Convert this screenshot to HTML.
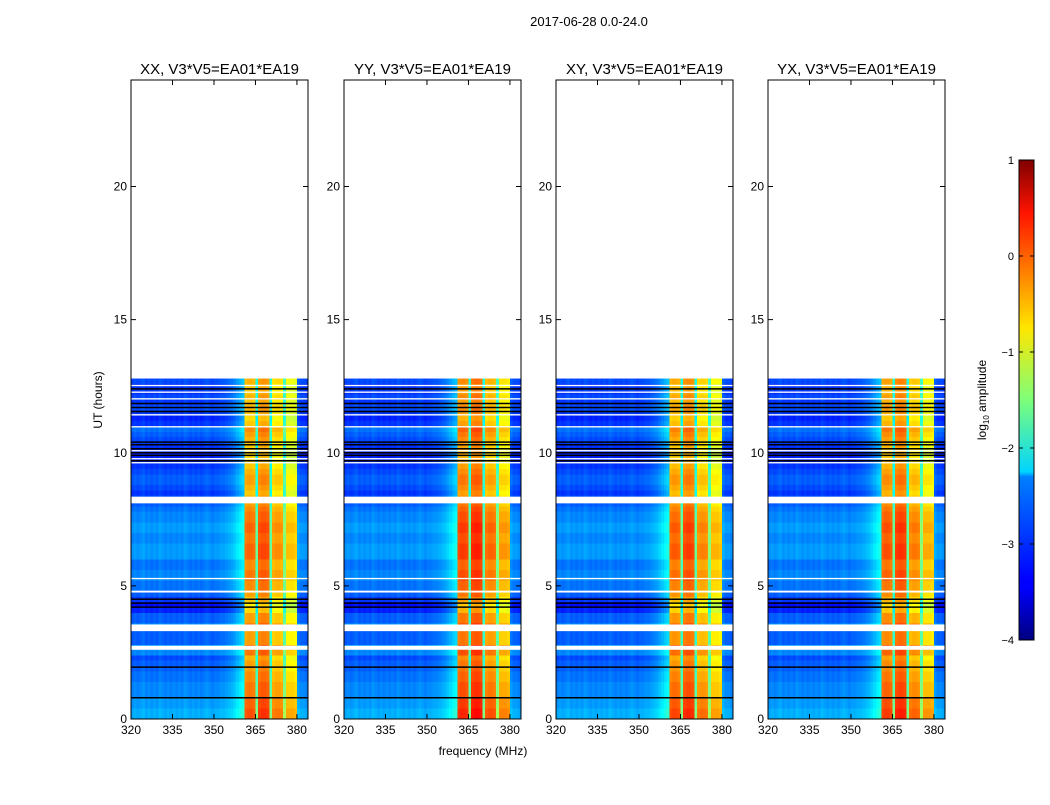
<!DOCTYPE html>
<html><head><meta charset="utf-8">
<style>
body{margin:0;background:#fff;font-family:"Liberation Sans",sans-serif;}
svg text{font-family:"Liberation Sans",sans-serif;}
</style></head>
<body>
<svg id="fig" width="1050" height="800" xmlns="http://www.w3.org/2000/svg">
<defs>
<linearGradient id="jet" x1="0" y1="1" x2="0" y2="0">
<stop offset="0" stop-color="#00007f"/><stop offset="0.11" stop-color="#0000ff"/>
<stop offset="0.125" stop-color="#0000ff"/><stop offset="0.34" stop-color="#0080ff"/>
<stop offset="0.35" stop-color="#00d4ff"/><stop offset="0.5" stop-color="#7dff7a"/>
<stop offset="0.65" stop-color="#ffe600"/><stop offset="0.89" stop-color="#ff1300"/>
<stop offset="1" stop-color="#7f0000"/>
</linearGradient>
</defs>
<text x="589" y="26" font-size="13" text-anchor="middle">2017-06-28 0.0-24.0</text>
<g id="panels"></g>
<text x="483" y="755" font-size="12" text-anchor="middle">frequency (MHz)</text>
<text transform="translate(102,400) rotate(-90)" font-size="12" text-anchor="middle">UT (hours)</text>
<g>
<rect x="1019" y="160" width="15" height="480" fill="url(#jet)" stroke="#000" stroke-width="1"/>
<g id="cbticks"></g>
<text transform="translate(986,400) rotate(-90)" font-size="12" text-anchor="middle">log<tspan font-size="8" dy="3">10</tspan><tspan dy="-3"> amplitude</tspan></text>
</g>
</svg>
<script>
const panelTitles=["XX, V3*V5=EA01*EA19","YY, V3*V5=EA01*EA19","XY, V3*V5=EA01*EA19","YX, V3*V5=EA01*EA19"];
const xTicks=[320,335,350,365,380];
const yTicks=[0,5,10,15,20];
const cbTicks=[1,0,-1,-2,-3,-4];
// frequency channels 320..383 MHz (1 MHz each), baseline log10 amplitude
const freqProfile=[-2.95,-2.9,-2.95,-2.9,-2.85,-2.95,-2.9,-2.95,-2.9,-2.95,-2.85,-2.9,-2.95,-2.9,-2.95,-2.9,
-2.95,-2.9,-2.95,-2.85,-2.9,-2.95,-2.9,-2.95,-2.9,-2.95,-2.9,-2.85,-2.9,-2.95,-2.9,-2.9,
-2.85,-2.85,-2.8,-2.75,-2.7,-2.6,-2.5,-2.4,-2.3,-0.45,-0.4,-0.4,-0.45,-1.9,-0.3,-0.25,
-0.25,-0.3,-1.9,-0.65,-0.6,-0.6,-0.65,-1.7,-0.85,-0.85,-0.85,-0.9,-2.8,-2.9,-2.9,-2.95];
// per-panel boost applied to RFI band (360-380 MHz)
const bandBoost=[0,0.2,0.05,0.1];
// time rows 0..12.8 h, 0.2 h each: offset in log10 amplitude
const timeOffset=[0.4,0.4,0.3,0.3,0.2, 0.2,0.2,0.1,0.1,0.0, 0.0,-0.1,0.2,0.3,0.0, 0.0,0.0,0.3,0.0,0.0,
-0.3,-0.4,-0.2,0.0,0.1, 0.1,0.2,0.2,0.1,0.1, 0.3,0.3,0.3,0.2,0.2, 0.3,0.3,0.2,0.2,0.1,
0.0,-0.1,-0.2,-0.1,0.0, 0.0,-0.1,-0.2,-0.3,-0.3, -0.3,-0.2,-0.1,0.0,0.1, -0.2,-0.3,-0.2,-0.1,-0.2,
-0.1,-0.2,-0.2,-0.1];
// flagged (white) time ranges, hours
const whiteGaps=[[2.6,2.75],[3.3,3.55],[4.75,4.82],[5.25,5.3],[8.1,8.35],[9.6,9.65],[9.75,9.8],[10.05,10.1],[10.95,11.0],[11.4,11.45],[12.0,12.05],[12.25,12.3],[12.5,12.55],[12.78,12.8]];
// black lines, hours
const blackLines=[0.8,1.95,4.2,4.35,4.5,9.7,9.9,10.0,10.15,10.3,10.4,11.55,11.7,11.85,12.4];

const L=[131,344,556,768],W=177,T=80,B=719;
const NS="http://www.w3.org/2000/svg";
function xs(p,f){return L[p]+(f-320)/64*W;}
function ys(h){return B-h/24*(B-T);}
function jet(v){let t=(v+4)/5;t=Math.max(0,Math.min(1,t));
 const c=x=>Math.round(255*Math.max(0,Math.min(1,1.5-Math.abs(4*t-x))));
 return `rgb(${c(3)},${c(2)},${c(1)})`;}
function mk(tag,attrs,parent){const e=document.createElementNS(NS,tag);for(const k in attrs)e.setAttribute(k,attrs[k]);parent.appendChild(e);return e;}
const root=document.getElementById('panels');
for(let p=0;p<4;p++){
 const g=mk('g',{},root);
 
 
 const cells=mk('g',{'shape-rendering':'crispEdges'},g);
 
 
 for(let j=0;j<timeOffset.length;j++){
  const y0=ys((j+1)*0.2),y1=ys(j*0.2);
  for(let i=0;i<freqProfile.length;i++){
   const f=320+i;
   let v=freqProfile[i]+timeOffset[j];
   if(f>=360&&f<380&&freqProfile[i]>-1.5)v+=bandBoost[p];
   const r=mk('rect',{x:xs(p,f),y:y0,width:W/64+0.3,height:y1-y0+0.3,fill:jet(v)},cells);
   
   
  }
 }
 for(const [a,b] of whiteGaps){
  const r=mk('rect',{x:L[p],y:ys(b),width:W,height:ys(a)-ys(b),fill:'#fff'},g);
  
  
 }
 for(const h of blackLines){
  const l=mk('line',{x1:L[p],x2:L[p]+W,y1:ys(h),y2:ys(h),stroke:'#000','stroke-width':1.5},g);
  
  
 }
 const fr=mk('rect',{x:L[p],y:T,width:W,height:B-T,fill:'none',stroke:'#000','stroke-width':1},g);
 
 
 const tt=mk('text',{x:L[p]+W/2,y:74,'font-size':15,'text-anchor':'middle'},g);
 tt.textContent=panelTitles[p];
 
 
 for(const f of xTicks){const x=xs(p,f);
  mk('line',{x1:x,x2:x,y1:B,y2:B-5,stroke:'#000'},g);mk('line',{x1:x,x2:x,y1:T,y2:T+5,stroke:'#000'},g);
  const t=mk('text',{x:x,y:B+15,'font-size':12,'text-anchor':'middle'},g);t.textContent=f;
  
  }
 for(const h of yTicks){const y=ys(h);
  mk('line',{x1:L[p],x2:L[p]+5,y1:y,y2:y,stroke:'#000'},g);mk('line',{x1:L[p]+W,x2:L[p]+W-5,y1:y,y2:y,stroke:'#000'},g);
  const t=mk('text',{x:L[p]-4,y:y+4,'font-size':12,'text-anchor':'end'},g);t.textContent=h;
  
  }
}
const cb=document.getElementById('cbticks');
for(const v of cbTicks){const y=640-(v+4)/5*480;
 mk('line',{x1:1019,x2:1023,y1:y,y2:y,stroke:'#000'},cb);mk('line',{x1:1030,x2:1034,y1:y,y2:y,stroke:'#000'},cb);
 const t=mk('text',{x:1014,y:y+4,'font-size':11,'text-anchor':'end'},cb);t.textContent=v<0?'\u2212'+(-v):v;
 
 }
</script>
</body></html>
